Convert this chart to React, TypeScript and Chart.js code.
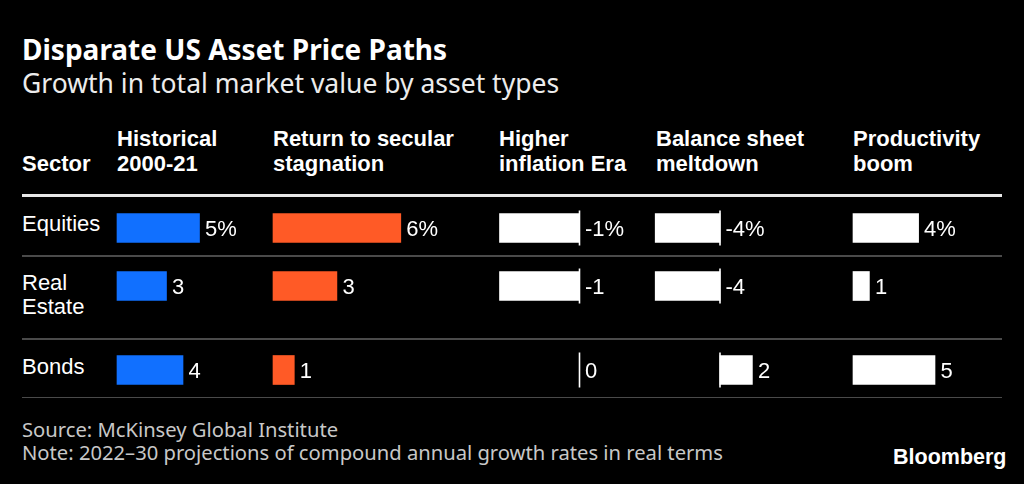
import React, { useEffect, useRef } from "react";
import { Chart, registerables } from "chart.js";

Chart.register(...registerables);

// ---------- data ----------
const sectors = ["Equities", "Real Estate", "Bonds"];
const scenarioHeaders = [
  ["Historical", "2000-21"],
  ["Return to secular", "stagnation"],
  ["Higher", "inflation Era"],
  ["Balance sheet", "meltdown"],
  ["Productivity", "boom"],
];
const historical = [5, 3, 4];
const secularStagnation = [6, 3, 1];
const higherInflation = [-1, -1, 0];
const balanceSheetMeltdown = [-4, -4, 2];
const productivityBoom = [4, 1, 5];

const titleText = "Disparate US Asset Price Paths";
const subtitleText = "Growth in total market value by asset types";
const sourceText = "Source: McKinsey Global Institute";
const noteText = "Note: 2022–30 projections of compound annual growth rates in real terms";

// ---------- layout / style ----------
const BLUE = "#1170FF";
const ORANGE = "#FF5A26";
const WHITE = "#FFFFFF";
const ROW_CENTERS = [227.5, 286, 370];
const CELL_H = 44;
const BAR_H = 29;

type Col = {
  values: number[];
  color: string;
  zero: number;
  k: number;
  left: number;
  width: number;
  headerX: number;
};

const columns: Col[] = [
  { values: historical, color: BLUE, zero: 117, k: 16.5, left: 110, width: 156, headerX: 117 },
  { values: secularStagnation, color: ORANGE, zero: 273, k: 21.3, left: 266, width: 226, headerX: 273 },
  { values: higherInflation, color: WHITE, zero: 579.5, k: 80, left: 492, width: 158, headerX: 499 },
  { values: balanceSheetMeltdown, color: WHITE, zero: 720, k: 16.2, left: 650, width: 196, headerX: 656 },
  { values: productivityBoom, color: WHITE, zero: 853, k: 16.4, left: 846, width: 170, headerX: 853 },
];

const LABEL_FONT = '22px "Liberation Sans", Arial, sans-serif';

function BarCell({ col, row }: { col: Col; row: number }) {
  const ref = useRef<HTMLCanvasElement | null>(null);
  useEffect(() => {
    if (!ref.current) return;
    const value = col.values[row];
    const hasNeg = col.values.some((v) => v < 0);
    const min = (col.left - col.zero) / col.k;
    const max = (col.left + col.width - col.zero) / col.k;
    const labelText = row === 0 ? `${value}%` : `${value}`;
    const cellPlugin = {
      id: "cellDecor",
      afterDatasetsDraw(chart: any) {
        const ctx = chart.ctx as CanvasRenderingContext2D;
        const xs = chart.scales.x;
        const meta = chart.getDatasetMeta(0);
        const bar = meta.data[0] as any;
        const zeroPx = xs.getPixelForValue(0);
        const cy = bar.y;
        ctx.save();
        if (hasNeg) {
          ctx.strokeStyle = WHITE;
          ctx.lineWidth = 1.6;
          ctx.beginPath();
          ctx.moveTo(zeroPx, cy - BAR_H / 2 - 3);
          ctx.lineTo(zeroPx, cy + BAR_H / 2 + 3);
          ctx.stroke();
        }
        const endPx = Math.max(bar.x, zeroPx);
        ctx.fillStyle = WHITE;
        ctx.font = LABEL_FONT;
        ctx.textBaseline = "alphabetic";
        ctx.textAlign = "left";
        ctx.fillText(labelText, endPx + 5.5, cy + 7.5);
        ctx.restore();
      },
    };
    const chart = new Chart(ref.current, {
      type: "bar",
      data: {
        labels: [sectors[row]],
        datasets: [
          {
            data: [value],
            backgroundColor: col.color,
            borderWidth: 0,
            barThickness: BAR_H,
          },
        ],
      },
      options: {
        indexAxis: "y",
        animation: false,
        responsive: true,
        maintainAspectRatio: false,
        events: [],
        layout: { padding: 0 },
        plugins: { legend: { display: false }, tooltip: { enabled: false } },
        scales: {
          x: { type: "linear", min, max, display: false },
          y: { display: false },
        },
      },
      plugins: [cellPlugin],
    } as any);
    return () => chart.destroy();
  }, [col, row]);
  return (
    <div
      style={{
        position: "absolute",
        left: col.left,
        top: ROW_CENTERS[row] - CELL_H / 2,
        width: col.width,
        height: CELL_H,
      }}
    >
      <canvas ref={ref} />
    </div>
  );
}

const headFont: React.CSSProperties = {
  position: "absolute",
  fontFamily: '"Liberation Sans", Arial, sans-serif',
  fontWeight: 700,
  fontSize: 22,
  lineHeight: "24.7px",
  color: WHITE,
  whiteSpace: "nowrap",
};

export default function App() {
  return (
    <div
      style={{
        position: "fixed",
        left: 0,
        top: 0,
        width: 1024,
        height: 484,
        background: "#000",
        overflow: "hidden",
        color: WHITE,
      }}
    >
      <div
        style={{
          position: "absolute",
          left: 22,
          top: 35.1,
          fontFamily: '"Noto Sans", sans-serif',
          fontWeight: 700,
          fontSize: 28,
          lineHeight: "28px",
          whiteSpace: "nowrap",
        }}
      >
        {titleText}
      </div>
      <div
        style={{
          position: "absolute",
          left: 22,
          top: 70,
          fontFamily: '"Noto Sans", sans-serif',
          fontWeight: 400,
          fontSize: 26.5,
          lineHeight: "26.5px",
          color: "#ececec",
          whiteSpace: "nowrap",
        }}
      >
        {subtitleText}
      </div>

      <div style={{ ...headFont, left: 22, top: 151.7 }}>Sector</div>
      {scenarioHeaders.map((lines, i) => (
        <div key={i} style={{ ...headFont, left: columns[i].headerX, top: 127 }}>
          {lines.map((l, j) => (
            <div key={j}>{l}</div>
          ))}
        </div>
      ))}

      <div style={{ position: "absolute", left: 22, top: 194, width: 980, height: 3, background: "#e8e8e8" }} />
      {[255.3, 338.3, 396.6].map((y, i) => (
        <div key={i} style={{ position: "absolute", left: 22, top: y, width: 980, height: 1.5, background: "#4a4a4a" }} />
      ))}

      {sectors.map((s, i) => (
        <div
          key={s}
          style={{
            position: "absolute",
            left: 22,
            top: ROW_CENTERS[i] - 15.4,
            width: 88,
            fontFamily: '"Liberation Sans", Arial, sans-serif',
            fontSize: 22,
            lineHeight: "24.7px",
            color: WHITE,
          }}
        >
          {s}
        </div>
      ))}

      {columns.map((c, ci) =>
        sectors.map((_, ri) => <BarCell key={`${ci}-${ri}`} col={c} row={ri} />)
      )}

      <div
        style={{
          position: "absolute",
          left: 22,
          top: 417.7,
          fontFamily: '"Noto Sans", sans-serif',
          fontSize: 20.2,
          lineHeight: "23px",
          color: "#c8c8c8",
          whiteSpace: "nowrap",
        }}
      >
        <div>{sourceText}</div>
        <div>{noteText}</div>
      </div>
      <div
        style={{
          position: "absolute",
          right: 17.5,
          top: 445.5,
          fontFamily: '"Liberation Sans", Arial, sans-serif',
          fontWeight: 700,
          fontSize: 21.5,
          lineHeight: "22px",
          color: WHITE,
          whiteSpace: "nowrap",
        }}
      >
        Bloomberg
      </div>
    </div>
  );
}
